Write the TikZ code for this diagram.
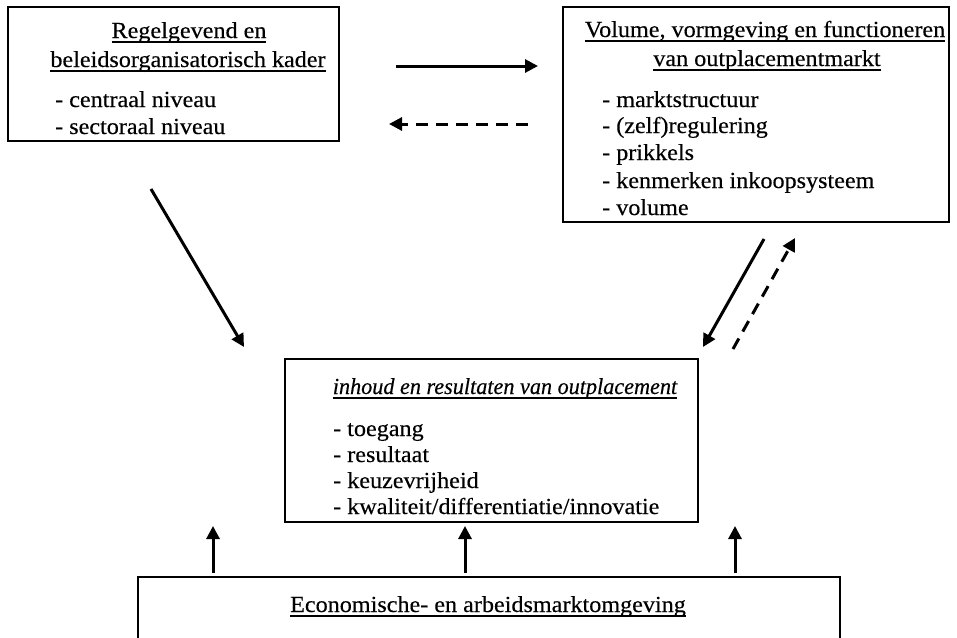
\documentclass[tikz,border=0pt]{standalone}
\usepackage{fontspec}
\setmainfont{Liberation Serif}[FakeStretch=1.05, FakeBold=0.35, ItalicFeatures={FakeStretch=0.965}]
\usetikzlibrary{arrows.meta}
\newcommand\myul[1]{\setbox0\hbox{#1}\rlap{\rule[-4.5pt]{\wd0}{1.3pt}}\box0}
\begin{document}
\begin{tikzpicture}[x=1pt,y=-1pt, font=\fontsize{23}{27}\selectfont,
  box/.style={draw, line width=1.6pt, inner sep=0pt, outer sep=0pt, anchor=north west},
  txt/.style={inner sep=0pt, anchor=base},
  itm/.style={inner sep=0pt, anchor=base west},
  arr/.style={line width=3pt, -{Triangle[length=13pt,width=13pt]}},
  darr/.style={arr, dash pattern=on 12pt off 8pt}]
\useasboundingbox (0,0) rectangle (957,637);
% boxes
\node[box, minimum width=331pt, minimum height=134pt] (reg) at (8,7) {};
\node[box, minimum width=386pt, minimum height=215pt] (vol) at (563,7) {};
\node[box, minimum width=413pt, minimum height=163pt] (inh) at (285,359) {};
\node[box, minimum width=702pt, minimum height=120pt] (eco) at (138,577) {};
% box 1 texts
\node[txt] (reg1) at (189,38) {\myul{Regelgevend en}};
\node[txt] (reg2) at (188,67) {\myul{beleidsorganisatorisch kader}};
\node[itm] (reg3) at (55,107) {- centraal niveau};
\node[itm] (reg4) at (55,134) {- sectoraal niveau};
% box 2 texts
\node[txt] (vol1) at (765,37) {\myul{Volume, vormgeving en functioneren}};
\node[txt] (vol2) at (767,66) {\myul{van outplacementmarkt}};
\node[itm] (vol3) at (602,107) {- marktstructuur};
\node[itm] (vol4) at (602,133) {- (zelf)regulering};
\node[itm] (vol5) at (602,160) {- prikkels};
\node[itm] (vol6) at (602,188) {- kenmerken inkoopsysteem};
\node[itm] (vol7) at (602,215) {- volume};
% box 3 texts
\node[txt] (inh1) at (505,394) {\myul{\itshape inhoud en resultaten van outplacement}};
\node[itm] (inh2) at (333,436) {- toegang};
\node[itm] (inh3) at (333,462) {- resultaat};
\node[itm] (inh4) at (333,488) {- keuzevrijheid};
\node[itm] (inh5) at (333,514) {- kwaliteit/differentiatie/innovatie};
% box 4 text
\node[txt] (eco1) at (488,612) {\myul{Economische- en arbeidsmarktomgeving}};
% arrow end points
\coordinate (a1s) at (396,66);  \coordinate (a1e) at (538,66);
\coordinate (a2s) at (528,124); \coordinate (a2e) at (389,124);
\coordinate (a3s) at (151,189); \coordinate (a3e) at (244,347);
\coordinate (a4s) at (764,239); \coordinate (a4e) at (703,347);
\coordinate (a5s) at (733,349); \coordinate (a5e) at (795,238);
\coordinate (b1s) at (213,573); \coordinate (b1e) at (213,526);
\coordinate (b2s) at (465,573); \coordinate (b2e) at (465,526);
\coordinate (b3s) at (735,573); \coordinate (b3e) at (735,526);
% arrows
\draw[arr] (a1s) -- (a1e);
\draw[darr] (a2s) -- (a2e);
\draw[arr] (a3s) -- (a3e);
\draw[arr] (a4s) -- (a4e);
\draw[darr] (a5s) -- (a5e);
\draw[arr] (b1s) -- (b1e);
\draw[arr] (b2s) -- (b2e);
\draw[arr] (b3s) -- (b3e);
\end{tikzpicture}
\end{document}
